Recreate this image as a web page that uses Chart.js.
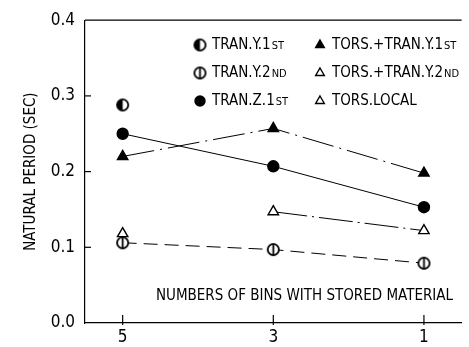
<!DOCTYPE html>
<html>
<head>
<meta charset="utf-8">
<script src="https://cdn.jsdelivr.net/npm/chart.js@4/dist/chart.umd.min.js"></script>
<style>
  html, body { margin: 0; padding: 0; background: #fff; }
  #wrap { width: 469px; height: 347px; }
</style>
</head>
<body>
<div id="wrap"><canvas id="chart" width="469" height="347"></canvas></div>
<script>
const FONT = "'DejaVu Sans Condensed', 'Liberation Sans Narrow', sans-serif";

// bins with stored material (x) and tick labels
const bins = [5, 3, 1];
const binLabels = ['5', '3', '1'];
const periodTicks = [0, 0.1, 0.2, 0.3, 0.4];

// natural periods (sec); null where no value was measured
const tranY1 = [0.288, null, null];
const tranY2 = [0.106, 0.097, 0.079];
const tranZ1 = [0.250, 0.207, 0.153];
const torsTranY1 = [0.220, 0.257, 0.198];
const torsTranY2 = [null, 0.147, 0.122];
const torsLocal = [0.118, null, null];

function points(values) {
    return bins.map((x, i) => ({ x: x, y: values[i] })).filter(p => p.y !== null);
}

// small canvases for the circle markers the library has no style for
function makeMarker(kind) {
    const c = document.createElement('canvas');
    c.width = 15; c.height = 15;
    const g = c.getContext('2d');
    const r = 5.6;
    g.lineWidth = 1.8;
    g.strokeStyle = '#000';
    g.fillStyle = '#fff';
    g.beginPath(); g.arc(7.5, 7.5, r, 0, Math.PI * 2); g.fill();
    if (kind === 'half') {
        g.fillStyle = '#000';
        g.beginPath(); g.arc(7.5, 7.5, r, Math.PI / 2, Math.PI * 1.5); g.closePath(); g.fill();
    }
    if (kind === 'bar') {
        g.beginPath(); g.moveTo(7.5, 1.5); g.lineTo(7.5, 13.5); g.stroke();
    }
    g.beginPath(); g.arc(7.5, 7.5, r, 0, Math.PI * 2); g.stroke();
    return c;
}
const halfCircle = makeMarker('half');
const barCircle = makeMarker('bar');

function series(label, values, style, fill, dash, radius) {
    return {
        label: label,
        data: points(values),
        pointStyle: style,
        pointRadius: radius,
        pointBackgroundColor: fill,
        pointBorderColor: '#000',
        pointBorderWidth: 1.4,
        borderColor: '#000',
        borderWidth: 1,
        borderDash: dash,
        showLine: true,
        fill: false
    };
}

const datasets = [
    series('TRAN.Y.1ST', tranY1, halfCircle, '#fff', [], 6),
    series('TRAN.Y.2ND', tranY2, barCircle, '#fff', [14, 7], 6),
    series('TRAN.Z.1ST', tranZ1, 'circle', '#000', [], 5.5),
    series('TORS.+TRAN.Y.1ST', torsTranY1, 'triangle', '#000', [32, 6, 2, 6], 6),
    series('TORS.+TRAN.Y.2ND', torsTranY2, 'triangle', '#fff', [34, 5, 2, 5], 6),
    series('TORS.LOCAL', torsLocal, 'triangle', '#fff', [], 6)
];

// draws a label with a trailing ordinal suffix (ST / ND) in smaller type
function drawLabel(ctx, text, x, y) {
    const m = text.match(/^(.*\d)(ST|ND)$/);
    ctx.font = '15px ' + FONT;
    ctx.textBaseline = 'middle';
    ctx.textAlign = 'left';
    if (!m) { ctx.fillText(text, x, y); return; }
    ctx.fillText(m[1], x, y);
    const w = ctx.measureText(m[1]).width;
    ctx.font = '11px ' + FONT;
    ctx.fillText(m[2], x + w + 1, y + 1);
}

const framePlugin = {
    id: 'frame',
    afterDraw(chart) {
        const ctx = chart.ctx;
        const a = chart.chartArea;
        const xs = chart.scales.x, ys = chart.scales.y;
        ctx.save();
        ctx.strokeStyle = '#000';
        ctx.fillStyle = '#000';
        ctx.lineWidth = 1.2;
        ctx.setLineDash([]);
        // top border line
        ctx.beginPath(); ctx.moveTo(a.left, a.top); ctx.lineTo(a.right, a.top); ctx.stroke();
        // inward tick marks
        periodTicks.slice(1, -1).forEach(v => {
            const y = ys.getPixelForValue(v);
            ctx.beginPath(); ctx.moveTo(a.left, y); ctx.lineTo(a.left + 6, y); ctx.stroke();
        });
        bins.forEach(v => {
            const x = xs.getPixelForValue(v);
            ctx.beginPath(); ctx.moveTo(x, a.bottom + 2); ctx.lineTo(x, a.bottom - 8); ctx.stroke();
        });
        // x-axis caption inside the plot
        ctx.font = '15px ' + FONT;
        ctx.textAlign = 'right';
        ctx.textBaseline = 'middle';
        ctx.fillText('NUMBERS OF BINS WITH STORED MATERIAL', 453, 296);
        // legend, two columns of three
        const cols = [200, 320];
        const rows = [45, 73, 101];
        chart.data.datasets.forEach((ds, i) => {
            const cx = cols[Math.floor(i / 3)];
            const cy = rows[i % 3];
            ctx.fillStyle = ds.pointBackgroundColor;
            ctx.strokeStyle = '#000';
            ctx.lineWidth = 1.4;
            Chart.helpers.drawPoint(ctx, {
                pointStyle: ds.pointStyle,
                radius: 5,
                borderWidth: 1.4,
                rotation: 0
            }, cx, cy);
            ctx.fillStyle = '#000';
            drawLabel(ctx, ds.label, cx + 12, cy);
        });
        ctx.restore();
    }
};

new Chart(document.getElementById('chart'), {
    type: 'scatter',
    data: { datasets: datasets },
    options: {
        responsive: false,
        animation: false,
        layout: { padding: { top: 17, right: 0, left: 0, bottom: 0 } },
        plugins: { legend: { display: false }, tooltip: { enabled: false } },
        scales: {
            x: {
                type: 'linear',
                reverse: true,
                min: 0.5,
                max: 5.5,
                afterBuildTicks: scale => { scale.ticks = bins.map(v => ({ value: v })); },
                afterFit: scale => { scale.height = 24; },
                grid: { display: false, drawTicks: false },
                border: { display: true, color: '#000', width: 1.2 },
                ticks: {
                    color: '#000',
                    padding: 4,
                    maxRotation: 0,
                    autoSkip: false,
                    font: { family: FONT, size: 17 },
                    callback: v => binLabels[bins.indexOf(v)]
                }
            },
            y: {
                min: 0,
                max: 0.4,
                afterBuildTicks: scale => { scale.ticks = periodTicks.map(v => ({ value: v })); },
                afterFit: scale => { scale.width = 85; },
                grid: { display: false, drawTicks: false },
                border: { display: true, color: '#000', width: 1.2 },
                ticks: {
                    color: '#000',
                    padding: 10,
                    font: { family: FONT, size: 17 },
                    callback: v => v.toFixed(1)
                },
                title: {
                    display: true,
                    text: 'NATURAL PERIOD (SEC)',
                    color: '#000',
                    font: { family: FONT, size: 15 },
                    padding: { top: 22, bottom: 0 }
                }
            }
        }
    },
    plugins: [framePlugin]
});
</script>
</body>
</html>
